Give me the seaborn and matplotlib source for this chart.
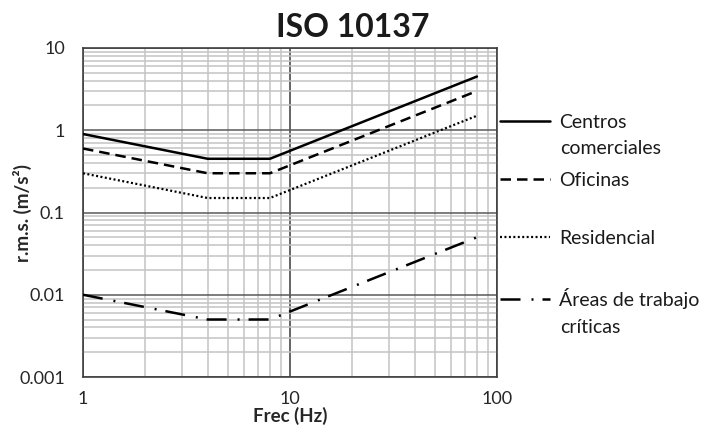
import numpy as np
import pandas as pd
import matplotlib
matplotlib.use("Agg")
import matplotlib.pyplot as plt
import seaborn as sns
from matplotlib.ticker import LogLocator, NullFormatter, FixedLocator, FixedFormatter

# ---- data ----
freq = [1, 4, 8, 80]
centros = [0.9, 0.45, 0.45, 4.5]
oficinas = [0.6, 0.3, 0.3, 3.0]
residencial = [0.3, 0.15, 0.15, 1.5]
criticas = [0.01, 0.005, 0.005, 0.05]
series_names = ["Centros comerciales", "Oficinas", "Residencial", "Áreas de trabajo críticas"]
legend_first = ["Centros", "Oficinas", "Residencial", "Áreas de trabajo"]
legend_second = ["comerciales", "", "", "críticas"]
x_ticks = [1, 10, 100]
x_tick_labels = ["1", "10", "100"]
y_ticks = [0.001, 0.01, 0.1, 1, 10]
y_tick_labels = ["0.001", "0.01", "0.1", "1", "10"]

df = pd.DataFrame({
    "freq": freq * 4,
    "value": centros + oficinas + residencial + criticas,
    "serie": sum([[n] * len(freq) for n in series_names], []),
})

sns.set_style("white")
plt.rcParams["font.family"] = ["Lato", "DejaVu Sans"]

W, H = 712, 428
fig = plt.figure(figsize=(W / 100, H / 100), dpi=100)
L, R, T, B = 83, 497, 48, 377
ax = fig.add_axes([L / W, 1 - B / H, (R - L) / W, (B - T) / H])

styles = {
    "Centros comerciales": "-",
    "Oficinas": (0, (4.2, 2.4)),
    "Residencial": (0, (0.9, 1.1)),
    "Áreas de trabajo críticas": (0, (8, 4.4, 0.8, 3.6)),
}
widths = {
    "Centros comerciales": 1.8,
    "Oficinas": 1.8,
    "Residencial": 1.6,
    "Áreas de trabajo críticas": 1.8,
}
for name in series_names:
    sub = df[df["serie"] == name]
    sns.lineplot(data=sub, x="freq", y="value", ax=ax, color="black",
                 linewidth=widths[name], linestyle=styles[name], label=name,
                 zorder=3)

ax.set_xscale("log")
ax.set_yscale("log")
ax.set_xlim(1, 100)
ax.set_ylim(0.001, 10)

ax.xaxis.set_major_locator(FixedLocator(x_ticks))
ax.xaxis.set_major_formatter(FixedFormatter(x_tick_labels))
ax.yaxis.set_major_locator(FixedLocator(y_ticks))
ax.yaxis.set_major_formatter(FixedFormatter(y_tick_labels))
ax.xaxis.set_minor_locator(LogLocator(base=10, subs=np.arange(2, 10)))
ax.yaxis.set_minor_locator(LogLocator(base=10, subs=np.arange(2, 10), numticks=20))
ax.xaxis.set_minor_formatter(NullFormatter())
ax.yaxis.set_minor_formatter(NullFormatter())

ax.set_axisbelow(True)
ax.grid(which="minor", color="#c4c4c4", linewidth=1.1)
ax.grid(which="major", axis="y", color="#5a5a5a", linewidth=1.1)
ax.grid(which="major", axis="x", color="#3a3a3a", linewidth=1.1)
for s in ax.spines.values():
    s.set_color("#404040")
    s.set_linewidth(1.2)

tfs = 13
ax.tick_params(which="both", length=0)
ax.tick_params(axis="x", pad=10, labelsize=tfs, labelcolor="#262626")
ax.tick_params(axis="y", pad=13, labelsize=tfs, labelcolor="#262626")

ax.set_xlabel("Frec (Hz)", fontsize=13.5, fontweight="bold", color="#262626")
ax.set_ylabel("r.m.s. (m/s²)", fontsize=13.5, fontweight="bold", color="#262626")
ax.xaxis.set_label_coords(0.5, -(416 - B) / (B - T))
ax.xaxis.label.set_va("center")
ax.yaxis.set_label_coords(-(L - 22) / (R - L), 0.5)
ax.yaxis.label.set_va("center")

fig.text(353 / W, 1 - 37 / H, "ISO 10137", ha="center", va="baseline",
         fontsize=23, fontweight="bold", color="#1a1a1a")

old = ax.get_legend()
if old is not None:
    old.remove()
handles = ax.get_lines()[:4]
fs = 14
fspx = fs * 100 / 72
leg = ax.legend(handles, legend_first, loc="upper left",
                bbox_to_anchor=(500 / W, 1 - 113.5 / H),
                bbox_transform=fig.transFigure, frameon=False,
                fontsize=fs, handlelength=50 / fspx, handletextpad=9 / fspx,
                labelspacing=2.12, borderpad=0, borderaxespad=0)
for t in leg.get_texts():
    t.set_color("#1a1a1a")

fig.text(560 / W, 1 - 154 / H, legend_second[0], ha="left", va="baseline",
         fontsize=fs, color="#1a1a1a")
fig.text(560 / W, 1 - 333 / H, legend_second[3], ha="left", va="baseline",
         fontsize=fs, color="#1a1a1a")

fig.savefig("out.png", dpi=100)
